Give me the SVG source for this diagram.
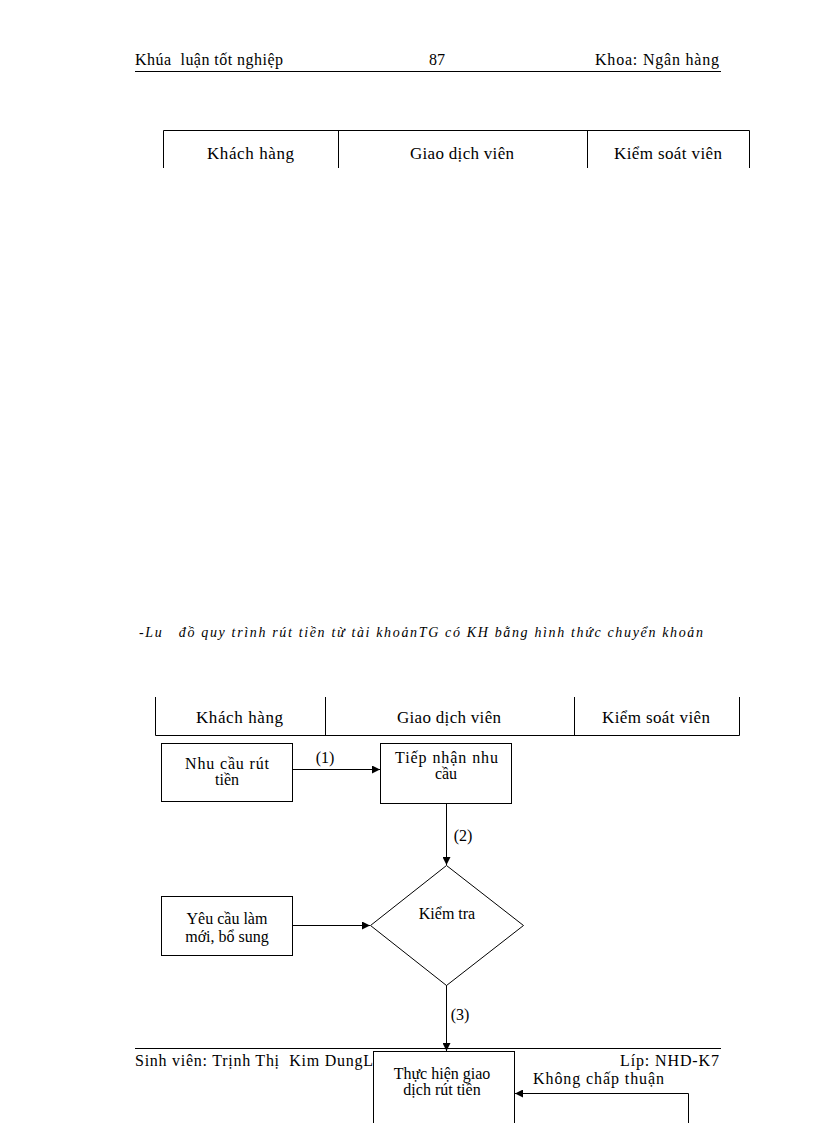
<svg xmlns="http://www.w3.org/2000/svg" width="816" height="1123" viewBox="0 0 816 1123">
<style>
text{font-family:"Liberation Serif","Times New Roman",serif;fill:#000}
.h{font-size:16px}
.t{font-size:17px}
.n{font-size:16px}
.cap{font-size:14px;font-style:italic;white-space:pre}
.ln{stroke:#000;stroke-width:1;fill:none}
.box{stroke:#000;stroke-width:1;fill:#fff}
</style>
<defs>
<marker id="ar" viewBox="0 0 10 10" refX="10" refY="5" markerWidth="8" markerHeight="8" markerUnits="userSpaceOnUse" orient="auto">
<path d="M0,0 L10,5 L0,10 z" fill="#000"/>
</marker>
</defs>
<rect width="816" height="1123" fill="#fff"/>
<g id="header">
<text class="h" x="135" y="65" textLength="148" xml:space="preserve">Khúa  luận tốt nghiệp</text>
<text class="h" x="437" y="65" text-anchor="middle">87</text>
<text class="h" x="595" y="65" textLength="124">Khoa: Ngân hàng</text>
<line class="ln" x1="135" y1="71.5" x2="721" y2="71.5"/>
</g>
<g id="table1">
<path class="ln" d="M163.5,168 V130.5 H749.5 V168 M338.5,130.5 V168 M587.5,130.5 V168"/>
<text class="t" x="207" y="159" textLength="87">Khách hàng</text>
<text class="t" x="410" y="159" textLength="104">Giao dịch viên</text>
<text class="t" x="614" y="159" textLength="108">Kiểm soát viên</text>
</g>
<g id="caption">
<text class="cap" x="139" y="637" textLength="564" lengthAdjust="spacing" xml:space="preserve">-Lu   đồ quy trình rút tiền từ tài khoảnTG có KH bằng hình thức chuyển khoản</text>
</g>
<g id="table2">
<path class="ln" d="M155.5,697 V735.5 H739.5 V697 M325.5,697 V735.5 M574.5,697 V735.5"/>
<text class="t" x="196" y="723" textLength="87">Khách hàng</text>
<text class="t" x="397" y="723" textLength="104">Giao dịch viên</text>
<text class="t" x="602" y="723" textLength="108">Kiểm soát viên</text>
</g>
<g id="footer">
<line class="ln" x1="135" y1="1048.5" x2="721" y2="1048.5"/>
<text class="h" x="135" y="1066" textLength="238" xml:space="preserve">Sinh viên: Trịnh Thị  Kim DungL</text>
<text class="h" x="620" y="1066" textLength="99">Líp: NHD-K7</text>
</g>
<g id="connectors">
<line class="ln" x1="293" y1="769.5" x2="380" y2="769.5" marker-end="url(#ar)"/>
<line class="ln" x1="446.5" y1="804" x2="446.5" y2="865" marker-end="url(#ar)"/>
<line class="ln" x1="293" y1="925.5" x2="370" y2="925.5" marker-end="url(#ar)"/>
<line class="ln" x1="446.5" y1="985" x2="446.5" y2="1051" marker-end="url(#ar)"/>
<polyline class="ln" points="688.5,1123 688.5,1093.5 515,1093.5" marker-end="url(#ar)"/>
<text class="n" x="325" y="763" text-anchor="middle">(1)</text>
<text class="n" x="463" y="841" text-anchor="middle">(2)</text>
<text class="n" x="460" y="1020" text-anchor="middle">(3)</text>
<text class="n" x="533" y="1084" textLength="131">Không chấp thuận</text>
</g>
<g id="node1">
<rect class="box" x="161.5" y="743.5" width="131" height="58"/>
<text class="n" x="185" y="769" textLength="84">Nhu cầu rút</text>
<text class="n" x="227" y="785" text-anchor="middle">tiền</text>
</g>
<g id="node2">
<rect class="box" x="380.5" y="743.5" width="131" height="60"/>
<text class="n" x="395" y="763" textLength="103">Tiếp nhận nhu</text>
<text class="n" x="446" y="779" text-anchor="middle">cầu</text>
</g>
<g id="node3">
<polygon class="box" points="446.5,865.5 523.5,925.5 446.5,985.5 370.5,925.5"/>
<text class="n" x="447" y="919" text-anchor="middle">Kiểm tra</text>
</g>
<g id="node4">
<rect class="box" x="161.5" y="896.5" width="131" height="59"/>
<text class="n" x="227" y="924" text-anchor="middle">Yêu cầu làm</text>
<text class="n" x="227" y="942" text-anchor="middle">mới, bổ sung</text>
</g>
<g id="node5">
<rect class="box" x="373.5" y="1051.5" width="141" height="80"/>
<text class="n" x="442" y="1079" text-anchor="middle">Thực hiện giao</text>
<text class="n" x="442" y="1095" text-anchor="middle">dịch rút tiền</text>
</g>
</svg>
